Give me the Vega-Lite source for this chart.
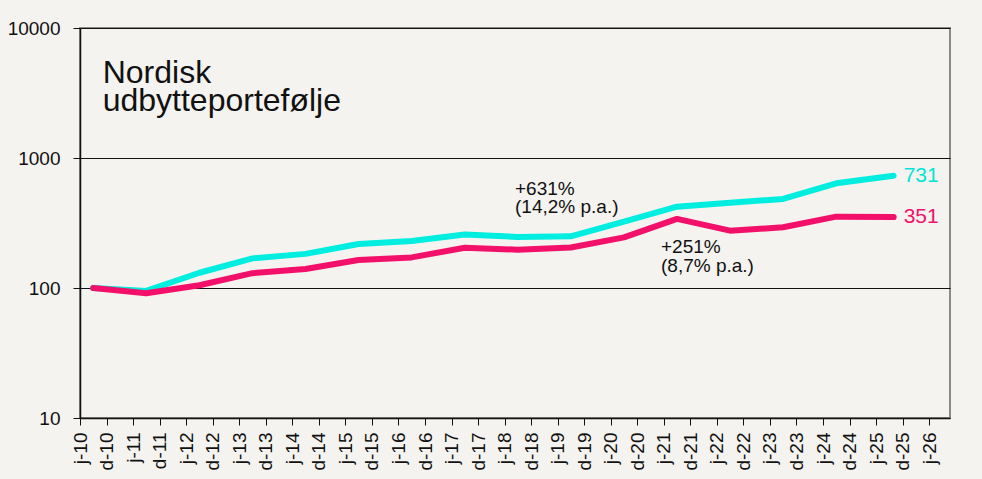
{
  "$schema": "https://vega.github.io/schema/vega-lite/v6.json",
  "width": 870,
  "height": 390,
  "autosize": {"type": "none"},
  "padding": {"left": 80, "top": 28, "right": 32, "bottom": 61},
  "background": "#F5F3EF",
  "config": {
    "font": "Liberation Sans",
    "view": {"stroke": "#8a8a8a", "strokeWidth": 2},
    "axis": {"labelFont": "Liberation Sans", "labelColor": "#111111", "domainColor": "#111111", "tickColor": "#111111"}
  },
  "data": {
    "values": [
      {"date": "2010-08-31", "series": "Portefølje", "value": 100},
      {"date": "2011-08-31", "series": "Portefølje", "value": 95},
      {"date": "2012-08-31", "series": "Portefølje", "value": 131},
      {"date": "2013-08-31", "series": "Portefølje", "value": 169},
      {"date": "2014-08-31", "series": "Portefølje", "value": 183},
      {"date": "2015-08-31", "series": "Portefølje", "value": 218},
      {"date": "2016-08-31", "series": "Portefølje", "value": 230},
      {"date": "2017-08-31", "series": "Portefølje", "value": 258},
      {"date": "2018-08-31", "series": "Portefølje", "value": 247},
      {"date": "2019-08-31", "series": "Portefølje", "value": 250},
      {"date": "2020-08-31", "series": "Portefølje", "value": 324},
      {"date": "2021-08-31", "series": "Portefølje", "value": 422},
      {"date": "2022-08-31", "series": "Portefølje", "value": 453},
      {"date": "2023-08-31", "series": "Portefølje", "value": 484},
      {"date": "2024-08-31", "series": "Portefølje", "value": 639},
      {"date": "2025-09-30", "series": "Portefølje", "value": 731},
      {"date": "2010-08-31", "series": "Referenceindeks", "value": 100},
      {"date": "2011-08-31", "series": "Referenceindeks", "value": 91},
      {"date": "2012-08-31", "series": "Referenceindeks", "value": 105},
      {"date": "2013-08-31", "series": "Referenceindeks", "value": 130},
      {"date": "2014-08-31", "series": "Referenceindeks", "value": 140},
      {"date": "2015-08-31", "series": "Referenceindeks", "value": 164},
      {"date": "2016-08-31", "series": "Referenceindeks", "value": 172},
      {"date": "2017-08-31", "series": "Referenceindeks", "value": 204},
      {"date": "2018-08-31", "series": "Referenceindeks", "value": 197},
      {"date": "2019-08-31", "series": "Referenceindeks", "value": 205},
      {"date": "2020-08-31", "series": "Referenceindeks", "value": 245},
      {"date": "2021-08-31", "series": "Referenceindeks", "value": 340},
      {"date": "2022-08-31", "series": "Referenceindeks", "value": 276},
      {"date": "2023-08-31", "series": "Referenceindeks", "value": 293},
      {"date": "2024-08-31", "series": "Referenceindeks", "value": 354},
      {"date": "2025-09-30", "series": "Referenceindeks", "value": 351}
    ]
  },
  "encoding": {
    "x": {
      "field": "date",
      "type": "temporal",
      "title": null,
      "scale": {
        "type": "utc",
        "domain": [{"year": 2010, "month": 6, "date": 1, "utc": true}, {"year": 2026, "month": 10, "date": 23, "utc": true}]
      },
      "axis": {
        "values": [
          {"year": 2010, "month": 6, "date": 1, "utc": true}, {"year": 2010, "month": 12, "date": 1, "utc": true},
          {"year": 2011, "month": 6, "date": 1, "utc": true}, {"year": 2011, "month": 12, "date": 1, "utc": true},
          {"year": 2012, "month": 6, "date": 1, "utc": true}, {"year": 2012, "month": 12, "date": 1, "utc": true},
          {"year": 2013, "month": 6, "date": 1, "utc": true}, {"year": 2013, "month": 12, "date": 1, "utc": true},
          {"year": 2014, "month": 6, "date": 1, "utc": true}, {"year": 2014, "month": 12, "date": 1, "utc": true},
          {"year": 2015, "month": 6, "date": 1, "utc": true}, {"year": 2015, "month": 12, "date": 1, "utc": true},
          {"year": 2016, "month": 6, "date": 1, "utc": true}, {"year": 2016, "month": 12, "date": 1, "utc": true},
          {"year": 2017, "month": 6, "date": 1, "utc": true}, {"year": 2017, "month": 12, "date": 1, "utc": true},
          {"year": 2018, "month": 6, "date": 1, "utc": true}, {"year": 2018, "month": 12, "date": 1, "utc": true},
          {"year": 2019, "month": 6, "date": 1, "utc": true}, {"year": 2019, "month": 12, "date": 1, "utc": true},
          {"year": 2020, "month": 6, "date": 1, "utc": true}, {"year": 2020, "month": 12, "date": 1, "utc": true},
          {"year": 2021, "month": 6, "date": 1, "utc": true}, {"year": 2021, "month": 12, "date": 1, "utc": true},
          {"year": 2022, "month": 6, "date": 1, "utc": true}, {"year": 2022, "month": 12, "date": 1, "utc": true},
          {"year": 2023, "month": 6, "date": 1, "utc": true}, {"year": 2023, "month": 12, "date": 1, "utc": true},
          {"year": 2024, "month": 6, "date": 1, "utc": true}, {"year": 2024, "month": 12, "date": 1, "utc": true},
          {"year": 2025, "month": 6, "date": 1, "utc": true}, {"year": 2025, "month": 12, "date": 1, "utc": true},
          {"year": 2026, "month": 6, "date": 1, "utc": true}
        ],
        "labelExpr": "(utcmonth(datum.value) == 5 ? 'j-' : 'd-') + utcFormat(datum.value, '%y')",
        "labelAngle": 270,
        "labelAlign": "right",
        "labelBaseline": "middle",
        "labelFontSize": 19,
        "labelPadding": 7,
        "labelOverlap": false,
        "labelBound": false,
        "labelFlush": false,
        "tickSize": 7,
        "grid": false,
        "domainWidth": 1.5
      }
    },
    "y": {
      "field": "value",
      "type": "quantitative",
      "title": null,
      "scale": {"type": "log", "domain": [10, 10000], "nice": false},
      "axis": {
        "values": [10, 100, 1000, 10000],
        "format": "d",
        "labelFontSize": 19,
        "labelPadding": 13,
        "tickSize": 7,
        "grid": true,
        "gridColor": "#111111",
        "gridWidth": 1,
        "gridOpacity": 1,
        "domainWidth": 1.5,
        "labelFlush": false,
        "labelOverlap": false
      }
    }
  },
  "layer": [
    {
      "transform": [{"filter": "datum.series == 'Portefølje'"}],
      "mark": {"type": "line", "color": "#00EEDF", "strokeWidth": 6, "strokeCap": "round", "strokeJoin": "round"}
    },
    {
      "transform": [{"filter": "datum.series == 'Referenceindeks'"}],
      "mark": {"type": "line", "color": "#F2106A", "strokeWidth": 6, "strokeCap": "round", "strokeJoin": "round"}
    },
    {
      "transform": [{"filter": "utcyear(datum.date) == 2025"}],
      "mark": {"type": "text", "align": "left", "baseline": "middle", "dx": 10, "fontSize": 21},
      "encoding": {
        "text": {"field": "value", "type": "quantitative", "format": "d"},
        "color": {
          "field": "series",
          "type": "nominal",
          "scale": {"domain": ["Portefølje", "Referenceindeks"], "range": ["#00E5D6", "#F2106A"]},
          "legend": null
        }
      }
    },
    {
      "transform": [{"filter": "datum.series == 'Portefølje' && utcyear(datum.date) == 2010"}],
      "mark": {"type": "text", "align": "left", "baseline": "alphabetic", "fontSize": 32, "lineHeight": 28, "lineBreak": "\n", "color": "#111111"},
      "encoding": {
        "x": {"datum": {"year": 2010, "month": 11, "date": 4, "utc": true}, "type": "temporal"},
        "y": {"datum": 3796, "type": "quantitative"},
        "text": {"value": "Nordisk\nudbytteportefølje"}
      }
    },
    {
      "transform": [{"filter": "datum.series == 'Portefølje' && utcyear(datum.date) == 2010"}],
      "mark": {"type": "text", "align": "left", "baseline": "alphabetic", "fontSize": 19, "lineHeight": 18, "lineBreak": "\n", "color": "#111111"},
      "encoding": {
        "x": {"datum": {"year": 2018, "month": 8, "date": 12, "utc": true}, "type": "temporal"},
        "y": {"datum": 519, "type": "quantitative"},
        "text": {"value": "+631%\n(14,2% p.a.)"}
      }
    },
    {
      "transform": [{"filter": "datum.series == 'Portefølje' && utcyear(datum.date) == 2010"}],
      "mark": {"type": "text", "align": "left", "baseline": "alphabetic", "fontSize": 19, "lineHeight": 19, "lineBreak": "\n", "color": "#111111"},
      "encoding": {
        "x": {"datum": {"year": 2021, "month": 5, "date": 13, "utc": true}, "type": "temporal"},
        "y": {"datum": 187, "type": "quantitative"},
        "text": {"value": "+251%\n(8,7% p.a.)"}
      }
    }
  ]
}
